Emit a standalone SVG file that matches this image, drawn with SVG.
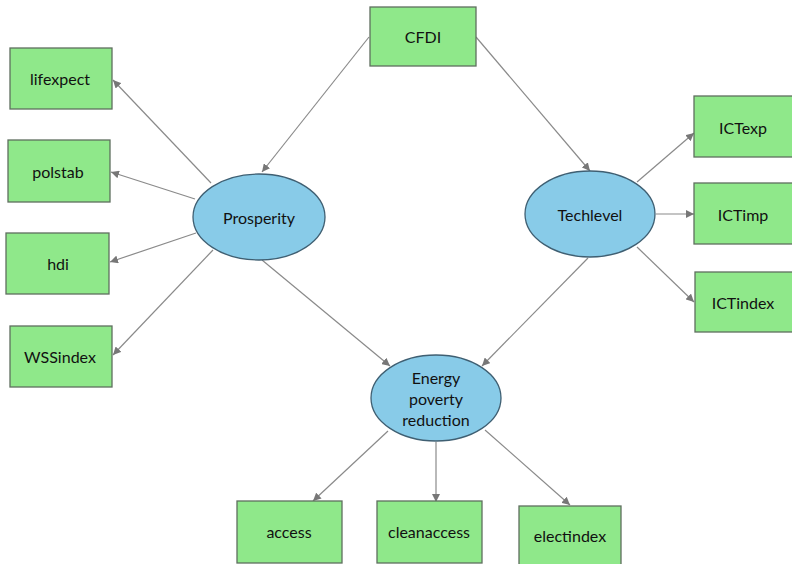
<svg xmlns="http://www.w3.org/2000/svg" width="792" height="564" viewBox="0 0 792 564">
<style>
.box{fill:#8fe88a;stroke:#5f6f5f;stroke-width:1.3}
.lat{fill:#88cbe8;stroke:#3f5f72;stroke-width:1.3}
.t{font-family:"Lato","Liberation Sans",sans-serif;font-size:16px;fill:#111;text-anchor:middle;dominant-baseline:central}
.c line{stroke:#8a8a8a;stroke-width:1.2;marker-end:url(#ah)}
</style>
<defs>
<marker id="ah" viewBox="0 0 10 10" refX="10" refY="5" markerWidth="8" markerHeight="8" markerUnits="userSpaceOnUse" orient="auto">
<path d="M0,0 L10,5 L0,10 z" fill="#777"/>
</marker>
</defs>
<rect width="792" height="564" fill="#fff"/>
<g class="c" id="connectors">
<line x1="369" y1="37" x2="262" y2="172"/>
<line x1="476" y1="37" x2="590" y2="171"/>
<line x1="211" y1="183" x2="113" y2="80"/>
<line x1="195" y1="199" x2="111" y2="172"/>
<line x1="196" y1="233" x2="110" y2="262"/>
<line x1="213" y1="250" x2="113" y2="355"/>
<line x1="262" y1="260" x2="390" y2="366"/>
<line x1="588" y1="258" x2="482" y2="366"/>
<line x1="637" y1="182" x2="694" y2="133"/>
<line x1="656" y1="214" x2="694" y2="214"/>
<line x1="637" y1="247" x2="694" y2="302"/>
<line x1="388" y1="431" x2="313" y2="501"/>
<line x1="436" y1="442" x2="436" y2="502"/>
<line x1="485" y1="430" x2="570" y2="505"/>
</g>
<g id="CFDI"><rect class="box" x="370" y="7" width="106" height="59"/><text class="t" x="423" y="36">CFDI</text></g>
<g id="lifexpect"><rect class="box" x="10" y="48" width="102" height="61"/><text class="t" x="60" y="78">lifexpect</text></g>
<g id="polstab"><rect class="box" x="8" y="140" width="102" height="62"/><text class="t" x="58" y="171">polstab</text></g>
<g id="hdi"><rect class="box" x="6" y="233" width="103" height="61"/><text class="t" x="58" y="263">hdi</text></g>
<g id="WSSindex"><rect class="box" x="10" y="326" width="102" height="61"/><text class="t" x="60" y="356">WSSindex</text></g>
<g id="Prosperity"><ellipse class="lat" cx="259" cy="217" rx="66" ry="43"/><text class="t" x="259" y="217">Prosperity</text></g>
<g id="Techlevel"><ellipse class="lat" cx="590" cy="214" rx="65" ry="43"/><text class="t" x="590" y="214">Techlevel</text></g>
<g id="ICTexp"><rect class="box" x="694" y="96" width="100" height="61"/><text class="t" x="743" y="127">ICTexp</text></g>
<g id="ICTimp"><rect class="box" x="694" y="183" width="100" height="61"/><text class="t" x="743" y="214">ICTimp</text></g>
<g id="ICTindex"><rect class="box" x="695" y="272" width="99" height="60"/><text class="t" x="743" y="302">ICTindex</text></g>
<g id="Energy"><ellipse class="lat" cx="436" cy="398" rx="65" ry="43"/><text class="t" x="436" y="377">Energy</text><text class="t" x="436" y="398">poverty</text><text class="t" x="436" y="419">reduction</text></g>
<g id="access"><rect class="box" x="237" y="501" width="105" height="62"/><text class="t" x="289" y="531">access</text></g>
<g id="cleanaccess"><rect class="box" x="377" y="501" width="105" height="62"/><text class="t" x="429" y="531">cleanaccess</text></g>
<g id="electindex"><rect class="box" x="519" y="506" width="102" height="60"/><text class="t" x="570" y="535">electindex</text></g>
</svg>
